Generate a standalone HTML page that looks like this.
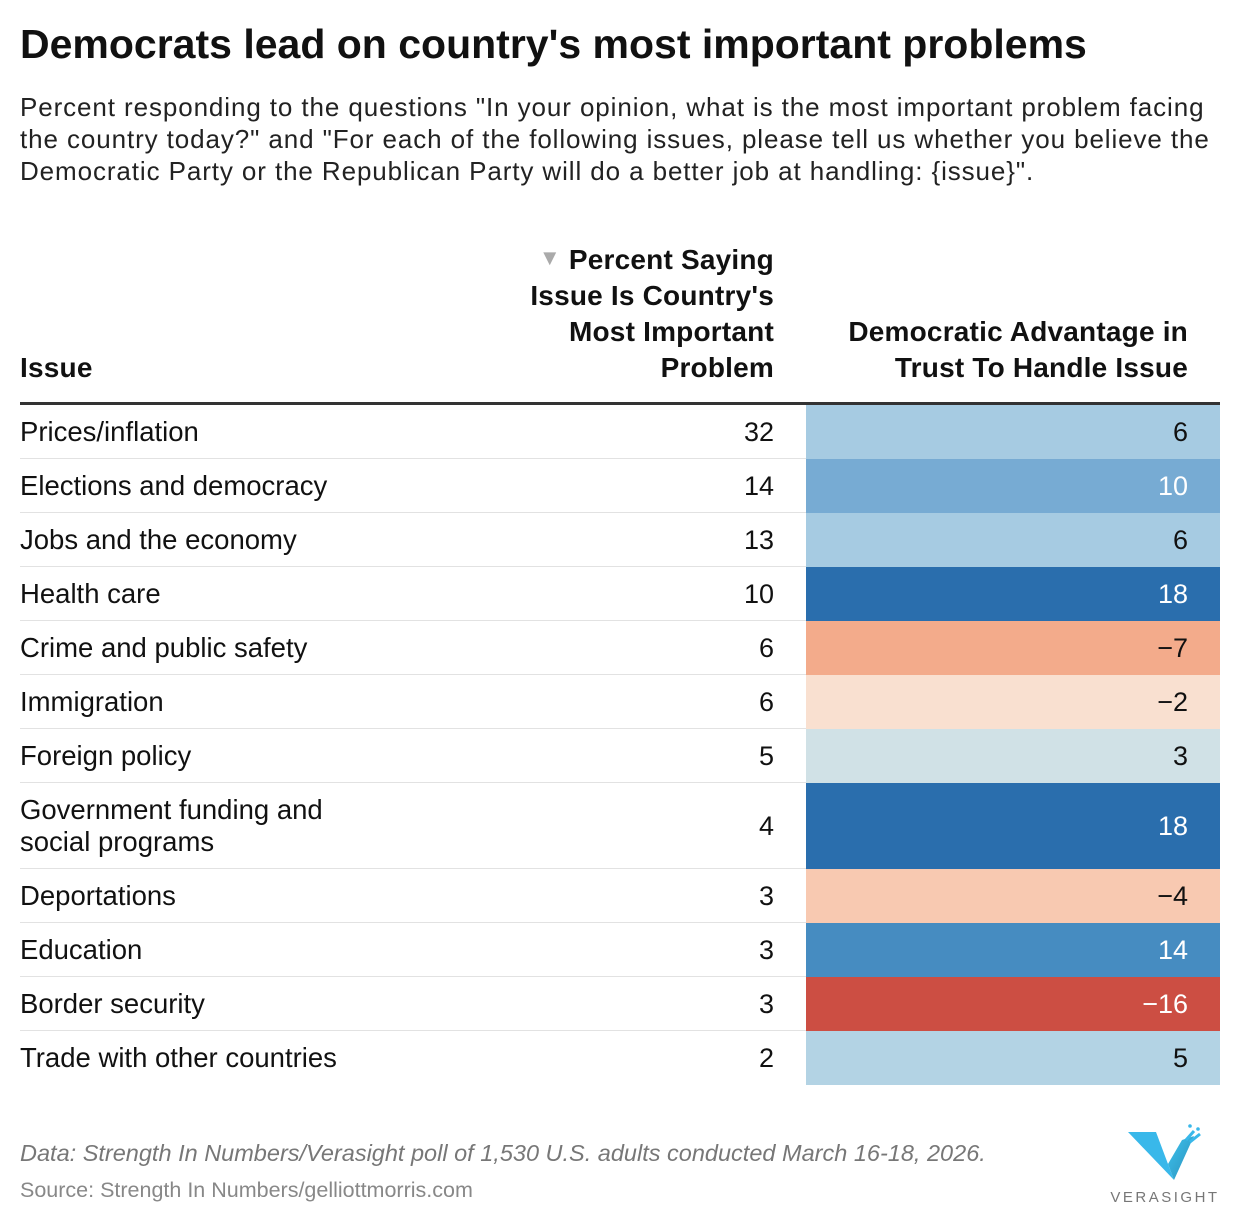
<!DOCTYPE html>
<html><head><meta charset="utf-8">
<style>
body{margin:0;background:#fff;width:1240px;height:1224px;overflow:hidden;font-family:"Liberation Sans",sans-serif;color:#111;position:relative}
.abs{position:absolute}
#title{left:20px;top:21px;font-size:41px;font-weight:bold;letter-spacing:0px;white-space:nowrap}
#sub{left:20px;top:91px;font-size:26px;line-height:32px;color:#222;white-space:nowrap;letter-spacing:0.9px}
.hd{font-weight:bold;font-size:28px;line-height:36px;color:#111;letter-spacing:0.2px;white-space:nowrap}
.row{position:absolute;left:20px;width:1200px}
.lab{position:absolute;left:0;font-size:27.5px;line-height:32px;color:#111}
.pct{position:absolute;right:446px;font-size:27px;color:#111}
.cell{position:absolute;left:786px;width:414px}
.adv{position:absolute;right:32px;font-size:27px}
.sep{position:absolute;left:0;width:786px;height:1px;background:#e2e2e2}
#note{left:20px;top:1140px;font-size:23.5px;font-style:italic;color:#777;white-space:nowrap}
#src{left:20px;top:1178px;font-size:21.5px;color:#888;white-space:nowrap}
</style></head><body>
<div id="title" class="abs">Democrats lead on country's most important problems</div>
<div id="sub" class="abs">Percent responding to the questions "In your opinion, what is the most important problem facing<br>the country today?" and "For each of the following issues, please tell us whether you believe the<br>Democratic Party or the Republican Party will do a better job at handling: {issue}".</div>
<div class="abs hd" style="left:20px;top:350px">Issue</div>
<div class="abs hd" style="right:466px;top:242px;text-align:right"><span style="color:#aaa;font-size:22px;line-height:20px;vertical-align:top;position:relative;top:6px">▼</span> Percent Saying<br>Issue Is Country's<br>Most Important<br>Problem</div>
<div class="abs hd" style="right:52px;top:314px;text-align:right">Democratic Advantage in<br>Trust To Handle Issue</div>
<div class="abs" style="left:20px;top:402px;width:1200px;height:3px;background:#333"></div>
<div id="tbl"></div>
<div id="note" class="abs">Data: Strength In Numbers/Verasight poll of 1,530 U.S. adults conducted March 16-18, 2026.</div>
<div id="src" class="abs">Source: Strength In Numbers/gelliottmorris.com</div>
<div class="abs" style="left:1110px;top:1122px;width:110px;height:86px">
<svg width="110" height="60" viewBox="0 0 110 60">
<defs><linearGradient id="g" x1="0" y1="0" x2="1" y2="1"><stop offset="0" stop-color="#3ec3f0"/><stop offset="1" stop-color="#2a8fb8"/></linearGradient></defs>
<polygon points="18,10 46,10 58,42 64,58" fill="#39b8ea"/>
<polygon points="64,58 58,42 72,18 84,14" fill="url(#g)"/>
<circle cx="80" cy="4" r="1.8" fill="#39b8ea"/><circle cx="88" cy="7" r="1.8" fill="#39b8ea"/>
<line x1="76" y1="18" x2="84" y2="9" stroke="#39b8ea" stroke-width="3"/><line x1="80" y1="20" x2="90" y2="12" stroke="#39b8ea" stroke-width="3"/>
</svg>
<div style="font-size:15px;letter-spacing:2.5px;color:#777;text-align:center;margin-top:2px">VERASIGHT</div>
</div>
<script>
const issues=["Prices/inflation","Elections and democracy","Jobs and the economy","Health care","Crime and public safety","Immigration","Foreign policy","Government funding and social programs","Deportations","Education","Border security","Trade with other countries"];
const percents=[32,14,13,10,6,6,5,4,3,3,3,2];
const advantages=[6,10,6,18,-7,-2,3,18,-4,14,-16,5];
const stops=[[-16,[204,78,67]],[-7,[243,171,139]],[-4,[248,201,177]],[-2,[249,224,208]],[0,[240,238,236]],[3,[208,225,230]],[5,[179,211,228]],[6,[166,203,226]],[10,[119,171,211]],[14,[70,140,193]],[18,[42,110,173]]];
function col(v){if(v<=stops[0][0])return stops[0][1];for(let i=1;i<stops.length;i++){if(v<=stops[i][0]){const a=stops[i-1],b=stops[i],t=(v-a[0])/(b[0]-a[0]);return a[1].map((c,k)=>Math.round(c+(b[1][k]-c)*t));}}return stops[stops.length-1][1];}
const tbl=document.getElementById('tbl');
let y=405;
issues.forEach((name,i)=>{
  const tall=name.length>30;const h=tall?86:54;
  const r=document.createElement('div');r.className='row';r.style.top=y+'px';r.style.height=h+'px';
  
  
  const lab=document.createElement('div');lab.className='lab';
  
  
  lab.style.top='11px';
  lab.innerHTML=tall?'Government funding and<br>social programs':name;
  const p=document.createElement('div');p.className='pct';p.style.top=(h/2-15)+'px';p.textContent=percents[i];
  
  
  const c=document.createElement('div');c.className='cell';c.style.top='0px';c.style.height=h+'px';
  const rgb=col(advantages[i]);c.style.background='rgb('+rgb.join(',')+')';
  
  
  const a=document.createElement('div');a.className='adv';a.style.top=(h/2-15)+'px';
  a.textContent=advantages[i]<0?'\u2212'+Math.abs(advantages[i]):advantages[i];
  a.style.color=(Math.abs(advantages[i])>=10)?'#fff':'#111';
  
  
  c.appendChild(a);
  r.appendChild(lab);r.appendChild(p);r.appendChild(c);
  if(i<issues.length-1){const s=document.createElement('div');s.className='sep';s.style.top=(h-1)+'px';
  
  
  r.appendChild(s);}
  tbl.appendChild(r);y+=h;
});
</script>
</body></html>
